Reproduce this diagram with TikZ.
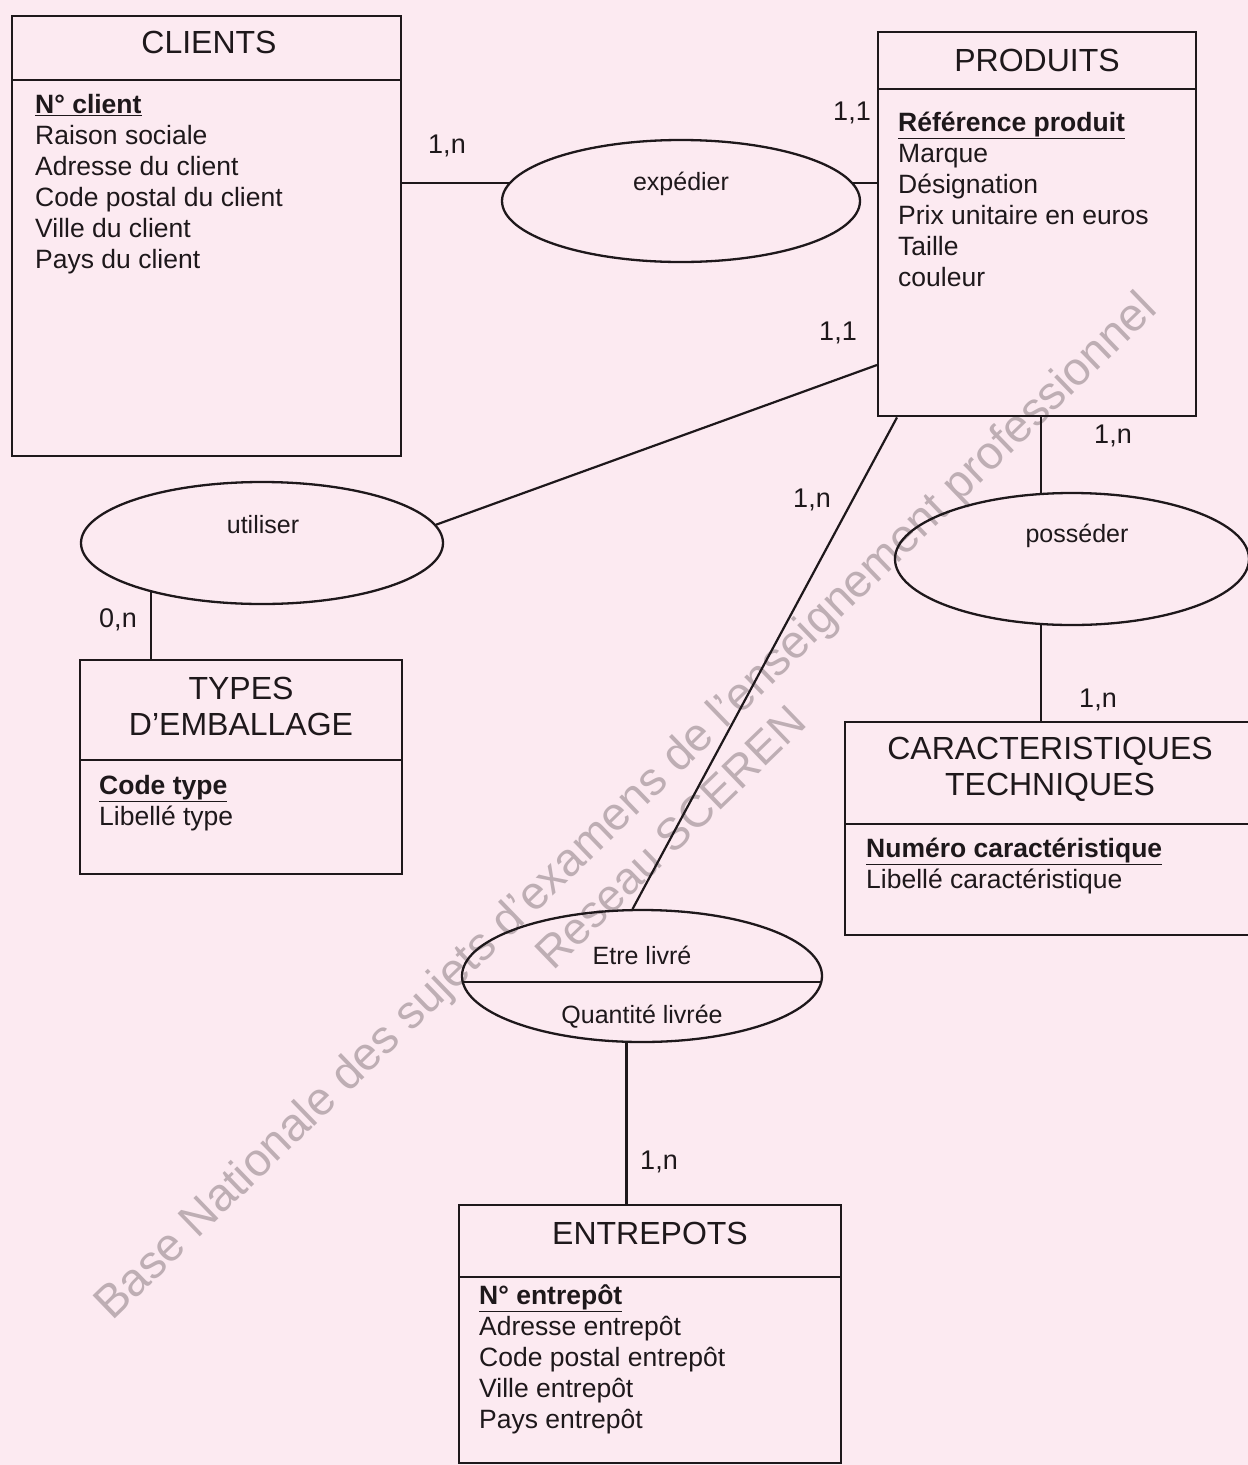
\documentclass[tikz,border=0pt]{standalone}
\usepackage{fontspec}
\setmainfont{Liberation Sans}
\usetikzlibrary{shapes.geometric,calc}
\definecolor{bgpink}{RGB}{252,234,241}
\definecolor{wm}{RGB}{190,174,180}
\definecolor{ink}{RGB}{30,24,27}
\begin{document}
\begin{tikzpicture}[x=1pt,y=-1pt,
  ent/.style={draw=ink, line width=2.4pt, rectangle, anchor=north west, inner sep=0pt},
  rel/.style={draw=ink, line width=2.3pt, ellipse, inner sep=0pt},
  ttl/.style={font=\fontsize{32}{36}\selectfont, text=ink, align=center, inner sep=0pt},
  attr/.style={font=\fontsize{26.5}{31}\selectfont, text=ink, align=left, anchor=north west, inner sep=0pt},
  card/.style={font=\fontsize{27}{30}\selectfont, text=ink, inner sep=0pt},
  rlab/.style={font=\fontsize{25}{28}\selectfont, text=ink, inner sep=0pt},
  lnk/.style={draw=ink, line width=2.2pt},
  wmark/.style={font=\fontsize{46.5}{50}\selectfont, text=wm, anchor=base west, rotate=44, inner sep=0pt},
]
\useasboundingbox (0,0) rectangle (1248,1465);
\clip (0,0) rectangle (1248,1465);
\fill[bgpink] (0,0) rectangle (1248,1465);

% watermark
\node[wmark] (wm1) at (112,1322) {Base Nationale des sujets d'examens de l'enseignement professionnel};
\node[wmark, font=\fontsize{45}{50}\selectfont] (wm2) at (553,972) {Reseau SCEREN};

% entities
\node[ent, minimum width=389pt, minimum height=440pt] (cli) at (11,15) {};
\draw[lnk] (cli.west |- 0,80) -- (cli.east |- 0,80);
\node[ttl] (cliT) at (209,42) {CLIENTS};
\node[attr] (cliA) at (35,94) {\underline{\textbf{N° client}}\\Raison sociale\\Adresse du client\\Code postal du client\\Ville du client\\Pays du client};

\node[ent, minimum width=318pt, minimum height=384pt] (prod) at (877,31) {};
\draw[lnk] (prod.west |- 0,89) -- (prod.east |- 0,89);
\node[ttl] (prodT) at (1037,60) {PRODUITS};
\node[attr] (prodA) at (898,112) {\underline{\textbf{Référence produit}}\\Marque\\Désignation\\Prix unitaire en euros\\Taille\\couleur};

\node[ent, minimum width=322pt, minimum height=214pt] (typ) at (79,659) {};
\draw[lnk] (typ.west |- 0,760) -- (typ.east |- 0,760);
\node[ttl] (typT) at (241,706) {TYPES\\D’EMBALLAGE};
\node[attr] (typA) at (99,775) {\underline{\textbf{Code type}}\\Libellé type};

\node[ent, minimum width=426pt, minimum height=213pt] (car) at (844,721) {};
\draw[lnk] (car.west |- 0,824) -- (car.east |- 0,824);
\node[ttl] (carT) at (1050,769) {CARACTERISTIQUES\\TECHNIQUES};
\node[attr] (carA) at (866,838) {\underline{\textbf{Numéro caractéristique}}\\Libellé caractéristique};

\node[ent, minimum width=382pt, minimum height=258pt] (ent) at (458,1204) {};
\draw[lnk] (ent.west |- 0,1277) -- (ent.east |- 0,1277);
\node[ttl] (entT) at (650,1233) {ENTREPOTS};
\node[attr] (entA) at (479,1284) {\underline{\textbf{N° entrepôt}}\\Adresse entrepôt\\Code postal entrepôt\\Ville entrepôt\\Pays entrepôt};

% relations
\node[rel, minimum width=358pt, minimum height=122pt] (exp) at (681,201) {};
\node[rlab] (expT) at (681,184) {expédier};
\node[rel, minimum width=362pt, minimum height=122pt] (uti) at (262,543) {};
\node[rlab] (utiT) at (263,525) {utiliser};
\node[rel, minimum width=354pt, minimum height=132pt] (pos) at (1072,559) {};
\node[rlab] (posT) at (1077,536) {posséder};
\node[rel, minimum width=360pt, minimum height=132pt] (liv) at (642,976) {};
\draw[lnk] (liv.182) -- (liv.358);
\node[rlab] (livT) at (642,955) {Etre livré};
\node[rlab] (livQ) at (642,1017) {Quantité livrée};

% links
\draw[lnk] (exp.174) -- (exp.174 -| cli.east);
\draw[lnk] (exp.6) -- (exp.6 -| prod.west);
\draw[lnk] (uti.6) -- (prod.west |- 0,365);
\draw[lnk] (uti.204) -- (uti.204 |- typ.north);
\draw[lnk] (pos.115.5) -- (pos.115.5 |- prod.south);
\draw[lnk] (pos.-115.5) -- (pos.-115.5 |- car.north);
\draw[lnk] (liv.98) -- ($(prod.south west)+(20,0)$);
\draw[lnk] (liv.257) -- (liv.257 |- ent.north);

% cardinalities
\node[card] (c1) at (447,146) {1,n};
\node[card] (c2) at (852,113) {1,1};
\node[card] (c3) at (838,333) {1,1};
\node[card] (c4) at (118,620) {0,n};
\node[card] (c5) at (1113,436) {1,n};
\node[card] (c6) at (812,500) {1,n};
\node[card] (c7) at (1098,700) {1,n};
\node[card] (c8) at (659,1162) {1,n};
\end{tikzpicture}
\end{document}
